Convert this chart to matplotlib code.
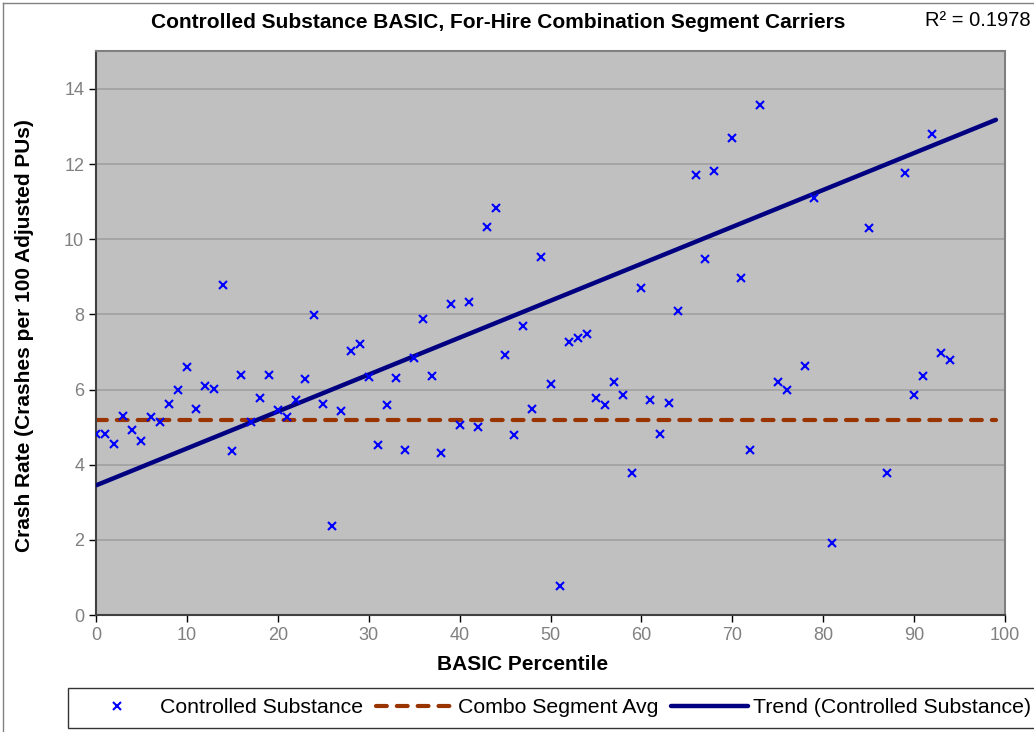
import numpy as np
import matplotlib
matplotlib.use('Agg')
import matplotlib.pyplot as plt
from matplotlib.lines import Line2D

plt.rcParams['font.family'] = ['Liberation Sans', 'DejaVu Sans']

# data
pct = [0, 1, 2, 3, 4, 5, 6, 7, 8, 9, 10, 11, 12, 13, 14, 15, 16, 17, 18, 19,
       20, 21, 22, 23, 24, 25, 26, 27, 28, 29, 30, 31, 32, 33, 34, 35, 36, 37, 38, 39,
       40, 41, 42, 43, 44, 45, 46, 47, 48, 49, 50, 51, 52, 53, 54, 55, 56, 57, 58, 59,
       60, 61, 62, 63, 64, 66, 67, 68, 70, 71, 72, 73, 75, 76, 78, 79, 81, 85, 87, 89,
       90, 91, 92, 93, 94]
crash_rate = [4.81, 4.81, 4.54, 5.29, 4.92, 4.62, 5.26, 5.14, 5.62, 6.00, 6.61, 5.47, 6.10, 6.02, 8.77, 4.37, 6.39, 5.13, 5.77, 6.39,
              5.45, 5.26, 5.73, 6.29, 7.98, 5.62, 2.38, 5.43, 7.02, 7.20, 6.34, 4.53, 5.59, 6.30, 4.38, 6.85, 7.87, 6.37, 4.31, 8.28,
              5.07, 8.32, 5.01, 10.33, 10.84, 6.91, 4.80, 7.68, 5.49, 9.53, 6.14, 0.77, 7.27, 7.38, 7.48, 5.77, 5.59, 6.19, 5.86, 3.77,
              8.69, 5.73, 4.81, 5.64, 8.09, 11.70, 9.47, 11.82, 12.69, 8.98, 4.40, 13.58, 6.19, 6.00, 6.62, 11.10, 1.92, 10.29, 3.77, 11.76,
              5.86, 6.36, 12.80, 6.97, 6.78]
avg_x = [0, 99]
avg_y = [5.19, 5.19]
trend_x = [0, 99]
trend_y = [3.45, 13.18]
r2_text = 'R² = 0.1978'

fig = plt.figure(figsize=(10.34, 7.32), dpi=100)
ax = fig.add_axes([96/1034, 1-615/732, (1005-96)/1034, (615-51.4)/732])
ax.set_facecolor('#C0C0C0')

ax.plot(avg_x, avg_y, color='#993300', lw=3, dashes=(2.6, 2.4), dash_capstyle='round',
        label='Combo Segment Avg', zorder=2)
ax.plot(trend_x, trend_y, color='#000080', lw=3.2, solid_capstyle='round',
        label='Trend (Controlled Substance)', zorder=3)
ax.plot(pct, crash_rate, ls='none', marker='x', ms=6, mew=1.5, color='#0000FF',
        label='Controlled Substance', zorder=4)

ax.set_xlim(0, 100)
ax.set_ylim(0, 15)
ax.set_xticks(range(0, 101, 10))
ax.set_yticks(range(0, 15, 2))
ax.yaxis.grid(True, color='#A0A0A0', lw=1.2)
ax.set_axisbelow(True)
ax.tick_params(colors='black', labelcolor='#808080', labelsize=13, length=5, width=1)
for s in ['top', 'right']:
    ax.spines[s].set_color('#808080')
    ax.spines[s].set_linewidth(1.5)
for s in ['left', 'bottom']:
    ax.spines[s].set_color('#404040')
    ax.spines[s].set_linewidth(1.5)

fig.text(523/1034, 1-664/732, 'BASIC Percentile', ha='center', va='center',
         fontsize=15, fontweight='bold')
fig.text(25/1034, 1-336/732, 'Crash Rate (Crashes per 100 Adjusted PUs)', ha='center', va='center',
         rotation=90, fontsize=15, fontweight='bold')
fig.text(498/1034, 1-23/732, 'Controlled Substance BASIC, For-Hire Combination Segment Carriers',
         ha='center', va='center', fontsize=15, fontweight='bold')
fig.text(1031/1034, 1-20/732, r2_text, ha='right', va='center', fontsize=14.5)

# outer border (top and left visible)
fig.add_artist(Line2D([3/1034, 3/1034], [0, 1-3/732], color='#808080', lw=1, transform=fig.transFigure))
fig.add_artist(Line2D([3/1034, 1], [1-3/732, 1-3/732], color='#808080', lw=1, transform=fig.transFigure))

h, l = ax.get_legend_handles_labels()
order = [2, 0, 1]
leg = fig.legend([h[i] for i in order], [l[i] for i in order], ncol=3, fontsize=15.3,
                 loc='lower left', bbox_to_anchor=(68/1034, 4/732),
                 frameon=True, fancybox=False, edgecolor='black',
                 handlelength=3.6, handletextpad=0.25, columnspacing=0.6, borderaxespad=0,
                 borderpad=0.5)
leg.get_frame().set_linewidth(1)

fig.savefig('out.png', dpi=100)
